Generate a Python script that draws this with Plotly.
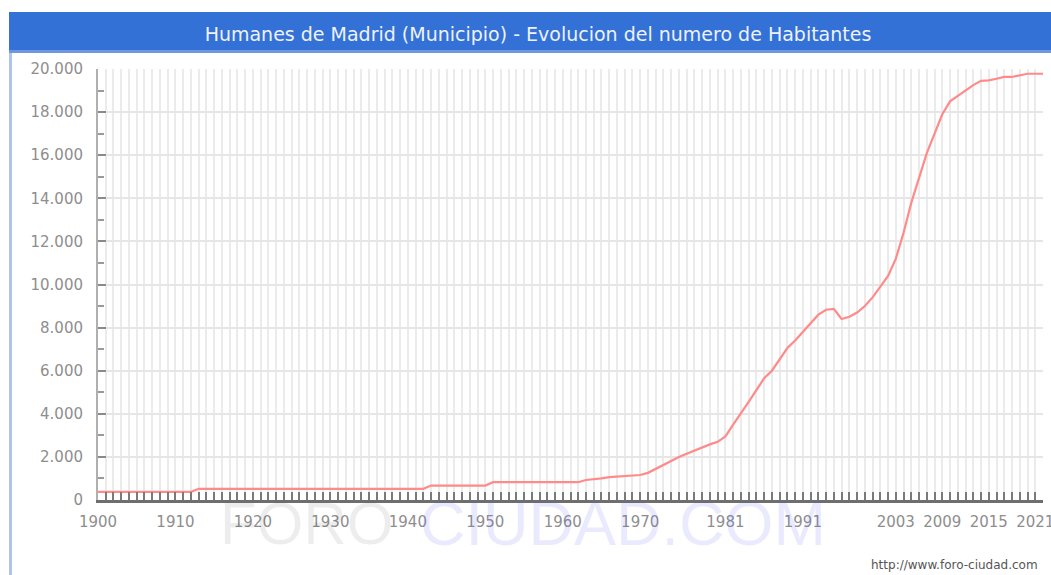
import plotly.graph_objects as go

# ---- data ----
years = list(range(1900, 2023))
habitantes = (
    [380] * 13 +          # 1900-1912
    [520] * 30 +          # 1913-1942
    [670] * 8 +           # 1943-1950
    [825] * 12 +          # 1951-1962
    [930, 960, 1000, 1060, 1090, 1110, 1130, 1160, 1260, 1450,      # 1963-1972
     1640, 1830, 2000, 2150, 2300, 2450, 2580, 2700, 2950, 3500,    # 1973-1982
     4000, 4550, 5100, 5650, 6000, 6500, 7050, 7400, 7800, 8250,    # 1983-1992
     8600, 8830, 8870, 8400, 8500, 8700, 9000, 9400, 9900, 10400,   # 1993-2002
     11200, 12400, 13800, 15000, 16100, 17000, 17900, 18500, 18750, 19000,  # 2003-2012
     19250, 19450, 19470, 19550, 19630, 19630, 19720, 19780, 19780, 19780]  # 2013-2022
)
assert len(habitantes) == len(years)

label_years = [1900, 1910, 1920, 1930, 1940, 1950, 1960, 1970, 1981, 1991, 2003, 2009, 2015, 2021]
label_text = [str(y) for y in label_years]

title_text = "Humanes de Madrid (Municipio) - Evolucion del numero de Habitantes"

# ---- layout geometry ----
WIDTH, HEIGHT = 1051, 575
L, R, T, B = 98, 8, 69, 75
PW = WIDTH - L - R
PH = HEIGHT - T - B


def fx(p):
    return (p - L) / PW


def fy(p):
    return (HEIGHT - B - p) / PH


fig = go.Figure()
fig.add_trace(go.Scatter(
    x=years, y=habitantes, mode="lines",
    line=dict(color="#ff8a8a", width=2.2),
    hoverinfo="x+y", showlegend=False,
))

tick_font = dict(family="DejaVu Sans", size=15, color="#8e8e8e")

fig.update_layout(
    width=WIDTH, height=HEIGHT, autosize=False,
    margin=dict(l=L, r=R, t=T, b=B, autoexpand=False),
    paper_bgcolor="white", plot_bgcolor="white",
    separators=",.",
    showlegend=False,
    title=dict(
        text=title_text, x=538 / WIDTH, xref="container", xanchor="center",
        y=1 - 34 / HEIGHT, yref="container", yanchor="middle",
        font=dict(family="DejaVu Sans", size=19, color="#eef2fb"),
    ),
    xaxis=dict(
        range=[1900, 2022], tickmode="array", tickvals=label_years, ticktext=label_text,
        ticks="inside", ticklen=8, tickwidth=2, tickcolor="#7a7a7a",
        showgrid=True, gridcolor="#ebebeb", gridwidth=2,
        showline=True, linecolor="#6e6e6e", linewidth=3,
        tickfont=tick_font, ticklabelstandoff=6, zeroline=False,
        ticklabeloverflow="allow", automargin=False,
        minor=dict(dtick=1, tick0=1900, ticks="inside", ticklen=8, tickwidth=2,
                   tickcolor="#7a7a7a", showgrid=True, gridcolor="#ebebeb", gridwidth=2),
    ),
    yaxis=dict(
        range=[0, 20000], dtick=2000, tickformat=",.0f",
        ticks="inside", ticklen=8, tickwidth=2, tickcolor="#8a8a8a",
        showgrid=True, gridcolor="#e6e6e6", gridwidth=2,
        showline=True, linecolor="#b0b0b0", linewidth=2,
        tickfont=tick_font, ticklabelstandoff=10, zeroline=False, automargin=False,
        minor=dict(dtick=1000, ticks="inside", ticklen=6, tickwidth=2,
                   tickcolor="#9a9a9a", showgrid=False),
    ),
)

shapes = [
    # title bar
    dict(type="rect", xref="paper", yref="paper", x0=fx(9), x1=fx(1051), y0=fy(50), y1=fy(12),
         fillcolor="#3371d6", line=dict(width=0), layer="above"),
    dict(type="rect", xref="paper", yref="paper", x0=fx(9), x1=fx(1051), y0=fy(53), y1=fy(50),
         fillcolor="#6e97df", line=dict(width=0), layer="above"),
    # left border
    dict(type="rect", xref="paper", yref="paper", x0=fx(9), x1=fx(12), y0=fy(575), y1=fy(53),
         fillcolor="#aec3ee", line=dict(width=0), layer="above"),
]
fig.update_layout(shapes=shapes)

annotations = [
    dict(text="FORO", xref="paper", yref="paper", x=fx(218), y=fy(523), xanchor="left", yanchor="middle",
         showarrow=False, font=dict(family="Liberation Sans", size=60, color="rgba(0,0,0,0.07)")),
    dict(text="CIUDAD.COM", xref="paper", yref="paper", x=fx(418), y=fy(523), xanchor="left", yanchor="middle",
         showarrow=False, font=dict(family="Liberation Sans", size=63, color="rgba(90,90,245,0.13)")),
    dict(text="http://www.foro-ciudad.com", xref="paper", yref="paper", x=fx(1040), y=fy(565),
         xanchor="right", yanchor="middle", showarrow=False,
         font=dict(family="DejaVu Sans", size=12, color="#555555")),
]
fig.update_layout(annotations=annotations)

fig.write_html(
    "out.html",
    config={"displayModeBar": False},
    post_script="document.body.style.margin='0';document.body.style.overflow='hidden';",
)
